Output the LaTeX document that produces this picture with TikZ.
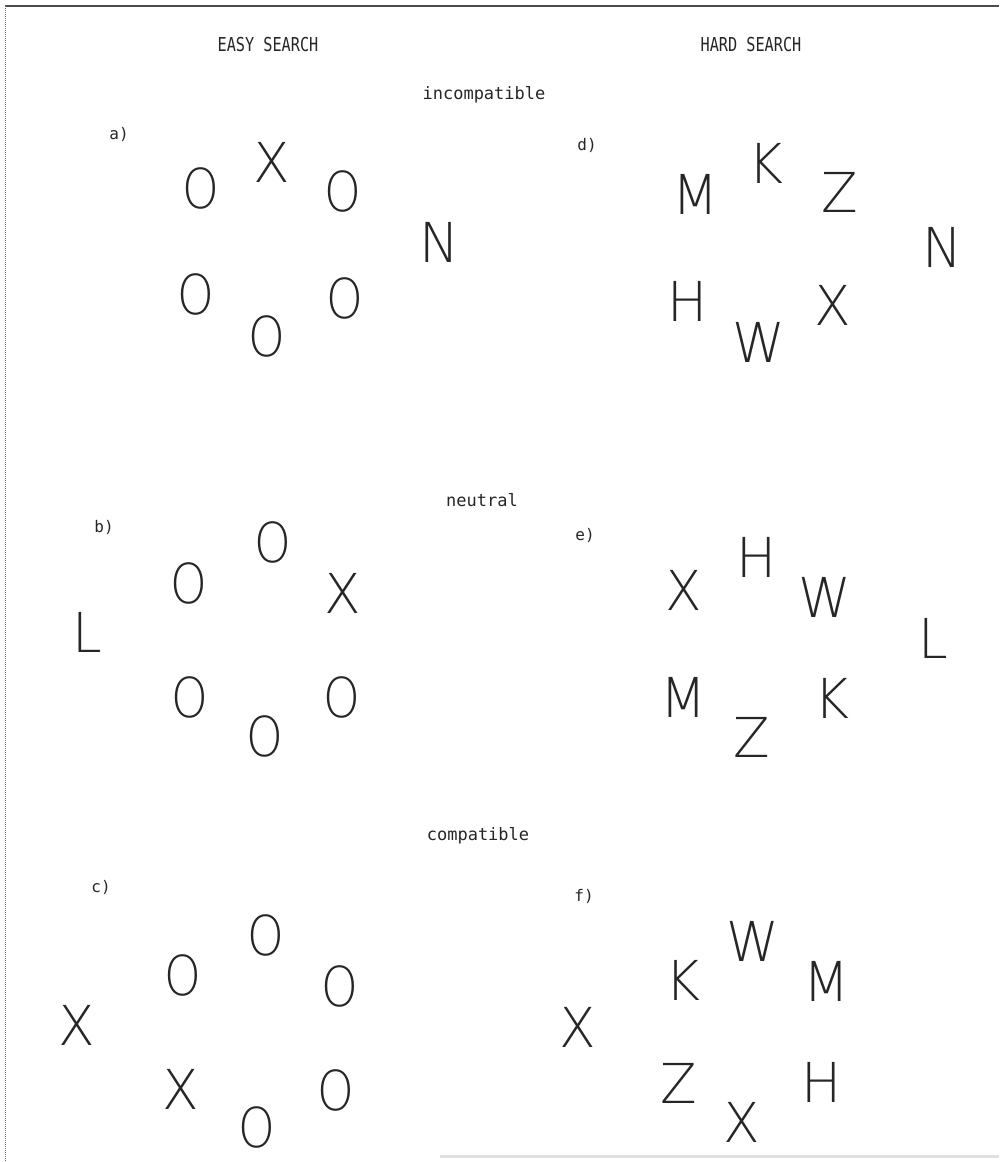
\documentclass[tikz,border=0pt]{standalone}
\usepackage{fontspec}
\setmainfont{DejaVu Sans}
\newfontfamily\ltrfont{DejaVu Sans ExtraLight}
\newfontfamily\lblfont{DejaVu Sans Mono}
\newcommand{\ltr}[1]{\scalebox{0.97}[1]{#1}}
\newcommand{\ovl}{\scalebox{0.85}[1]{O}}
\newcommand{\hdr}[1]{\scalebox{0.95}[1.2]{#1}}
\begin{document}
\begin{tikzpicture}[x=1pt,y=-1pt,
  letter/.style={inner sep=0pt, text=black!85, font=\ltrfont\fontsize{55}{55}\selectfont},
  head/.style={inner sep=0pt, text=black!85, font=\lblfont\fontsize{16}{16}\selectfont},
  cond/.style={inner sep=0pt, text=black!85, font=\lblfont\fontsize{17}{17}\selectfont},
  panel/.style={inner sep=0pt, text=black!85, font=\lblfont\fontsize{16}{16}\selectfont}]
\useasboundingbox (0,0) rectangle (999,1162);
\fill[white] (0,0) rectangle (999,1162);
% frame
\coordinate (tl) at (5,6);
\coordinate (tr) at (999,6);
\coordinate (bl) at (5,1162);
\draw[black!70, line width=1.5pt] (tl) -- (tr);
\draw[black!55, line width=1pt, densely dotted] (tl) -- (bl);
\coordinate (bb1) at (440,1156);
\coordinate (bb2) at (999,1156);
\draw[black!12, line width=3pt] (bb1) -- (bb2);
% headers
\node[head] (easy) at (268,45) {\hdr{EASY SEARCH}};
\node[head] (hard) at (751,45) {\hdr{HARD SEARCH}};
\node[cond] (incomp) at (484,95) {incompatible};
\node[cond] (neutral) at (482,500) {neutral};
\node[cond] (comp) at (478,836) {compatible};
% panel labels
\node[panel] (la) at (119,134) {a)};
\node[panel] (lb) at (104,527) {b)};
\node[panel] (lc) at (101,887) {c)};
\node[panel] (ld) at (587,145) {d)};
\node[panel] (le) at (585,535) {e)};
\node[panel] (lf) at (584,896) {f)};
% panel a
\node[letter] (a1) at (201,188) {\ovl};
\node[letter] (a2) at (272,162) {\ltr{X}};
\node[letter] (a3) at (343,191) {\ovl};
\node[letter] (a4) at (196,294) {\ovl};
\node[letter] (a5) at (267,336) {\ovl};
\node[letter] (a6) at (345,298) {\ovl};
\node[letter] (aN) at (439,242) {\ltr{N}};
% panel d
\node[letter] (d1) at (696,194) {\ltr{M}};
\node[letter] (d2) at (766,163) {\ltr{K}};
\node[letter] (d3) at (840,192) {\ltr{Z}};
\node[letter] (d4) at (688,301) {\ltr{H}};
\node[letter] (d5) at (759,342) {\ltr{W}};
\node[letter] (d6) at (833,305) {\ltr{X}};
\node[letter] (dN) at (942,247) {\ltr{N}};
% panel b
\node[letter] (b1) at (273,542) {\ovl};
\node[letter] (b2) at (189,583) {\ovl};
\node[letter] (b3) at (343,593) {\ltr{X}};
\node[letter] (b4) at (190,697) {\ovl};
\node[letter] (b5) at (265,736) {\ovl};
\node[letter] (b6) at (342,697) {\ovl};
\node[letter] (bL) at (87,632) {\ltr{L}};
% panel e
\node[letter] (e1) at (757,557) {\ltr{H}};
\node[letter] (e2) at (684,590) {\ltr{X}};
\node[letter] (e3) at (825,597) {\ltr{W}};
\node[letter] (e4) at (684,697) {\ltr{M}};
\node[letter] (e5) at (752,737) {\ltr{Z}};
\node[letter] (e6) at (832,698) {\ltr{K}};
\node[letter] (eL) at (933,638) {\ltr{L}};
% panel c
\node[letter] (c1) at (266,935) {\ovl};
\node[letter] (c2) at (183,975) {\ovl};
\node[letter] (c3) at (340,986) {\ovl};
\node[letter] (c4) at (181,1089) {\ltr{X}};
\node[letter] (c5) at (257,1127) {\ovl};
\node[letter] (c6) at (336,1090) {\ovl};
\node[letter] (cX) at (77,1025) {\ltr{X}};
% panel f
\node[letter] (f1) at (753,941) {\ltr{W}};
\node[letter] (f2) at (683,980) {\ltr{K}};
\node[letter] (f3) at (827,981) {\ltr{M}};
\node[letter] (f4) at (679,1083) {\ltr{Z}};
\node[letter] (f5) at (742,1122) {\ltr{X}};
\node[letter] (f6) at (822,1082) {\ltr{H}};
\node[letter] (fX) at (578,1027) {\ltr{X}};
\end{tikzpicture}
\end{document}
